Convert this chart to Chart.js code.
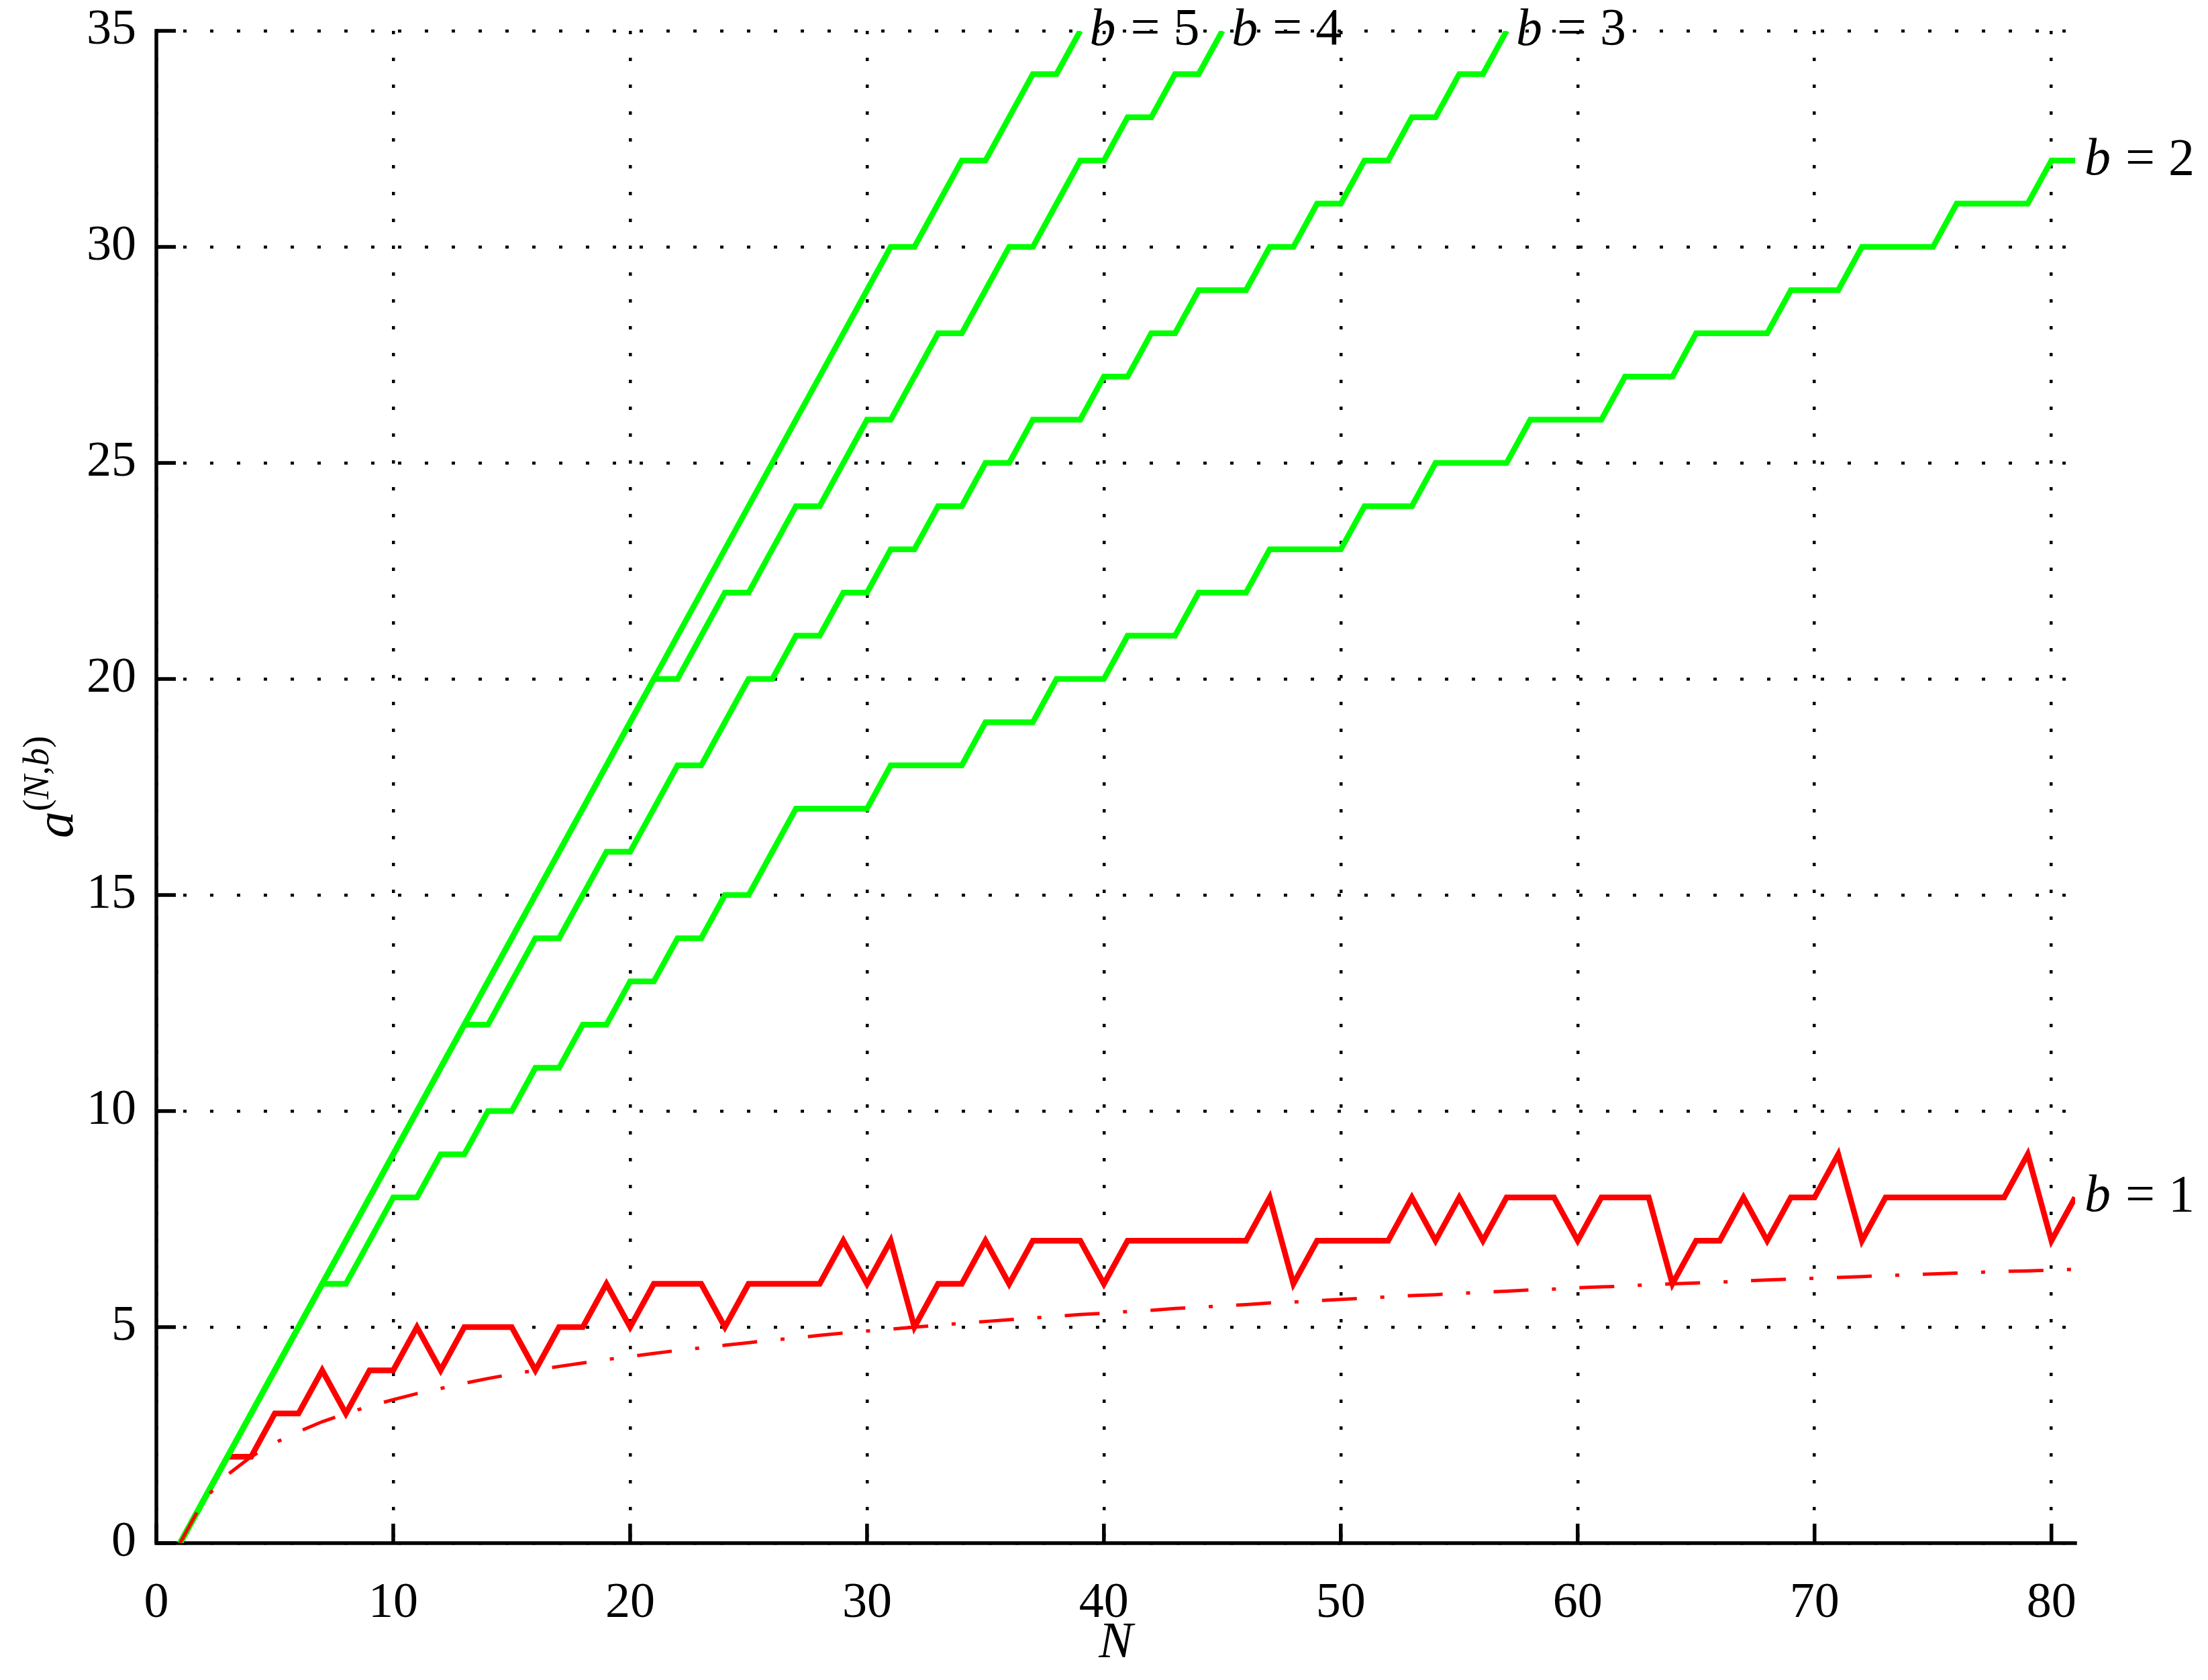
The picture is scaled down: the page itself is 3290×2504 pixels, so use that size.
<!DOCTYPE html>
<html><head><meta charset="utf-8">
<script src="https://cdn.jsdelivr.net/npm/chart.js@4.4.0/dist/chart.umd.min.js"></script>
<style>html,body{margin:0;padding:0;background:#fff;}#c{display:block;}</style>
</head><body>
<canvas id="c" width="3290" height="2504" style="width:3290px;height:2504px"></canvas>
<script>
// ---- data ----
const N = [1,2,3,4,5,6,7,8,9,10,11,12,13,14,15,16,17,18,19,20,21,22,23,24,25,26,27,28,29,30,31,32,33,34,35,36,37,38,39,40,41,42,43,44,45,46,47,48,49,50,51,52,53,54,55,56,57,58,59,60,61,62,63,64,65,66,67,68,69,70,71,72,73,74,75,76,77,78,79,80,81];
const xTicks = [0,10,20,30,40,50,60,70,80];
const yTicks = [0,5,10,15,20,25,30,35];
const b5 = [0,1,2,3,4,5,6,7,8,9, 10,11,12,13,14,15,16,17,18,19, 20,21,22,23,24,25,26,27,28,29, 30,30,31,32,32,33,34,34,35];
const b4 = [0,1,2,3,4,5,6,7,8,9, 10,11,12,13,14,15,16,17,18,19, 20,20,21,22,22,23,24,24,25,26, 26,27,28,28,29,30,30,31,32,32, 33,33,34,34,35];
const b3 = [0,1,2,3,4,5,6,7,8,9, 10,11,12,12,13,14,14,15,16,16, 17,18,18,19,20,20,21,21,22,22, 23,23,24,24,25,25,26,26,26,27, 27,28,28,29,29,29,30,30,31,31, 32,32,33,33,34,34,35];
const b2 = [0,1,2,3,4,5,6,6,7,8, 8,9,9,10,10,11,11,12,12,13, 13,14,14,15,15,16,17,17,17,17, 18,18,18,18,19,19,19,20,20,20, 21,21,21,22,22,22,23,23,23,23, 24,24,24,25,25,25,25,26,26,26, 26,27,27,27,28,28,28,28,29,29, 29,30,30,30,30,31,31,31,31,32,32];
const b1 = [0,1,2,2,3,3,4,3,4,4, 5,4,5,5,5,4,5,5,6,5, 6,6,6,5,6,6,6,6,7,6, 7,5,6,6,7,6,7,7,7,6, 7,7,7,7,7,7,8,6,7,7, 7,7,8,7,8,7,8,8,8,7, 8,8,8,6,7,7,8,7,8,8, 9,7,8,8,8,8,8,8,9,7,8];
const bound = [0,1,1.58,2,2.32,2.58,2.81,3,3.17,3.32, 3.46,3.58,3.70,3.81,3.91,4,4.09,4.17,4.25,4.32, 4.39,4.46,4.52,4.58,4.64,4.70,4.75,4.81,4.86,4.91, 4.95,5,5.04,5.09,5.13,5.17,5.21,5.25,5.29,5.32, 5.36,5.39,5.43,5.46,5.49,5.52,5.56,5.58,5.61,5.64, 5.67,5.70,5.73,5.75,5.78,5.81,5.83,5.86,5.88,5.91, 5.93,5.95,5.98,6,6.02,6.04,6.07,6.09,6.11,6.13, 6.15,6.17,6.19,6.21,6.23,6.25,6.27,6.29,6.30,6.32,6.34];
const seriesNames = ['5','4','3','2','1'];
const xTitle = 'N';

// ---- helpers ----
const SERIF = '"Liberation Serif", "DejaVu Serif", serif';
function pts(vals){ return vals.map((v,i)=>({x:N[i], y:v})); }
const GREEN = '#00ff00', RED = '#ff0000';

const axesPlugin = {
  id:'axesPlugin',
  beforeDatasetsDraw(chart){
    const {ctx, chartArea:a, scales:{x,y}} = chart;
    ctx.save();
    ctx.strokeStyle = '#000'; ctx.lineWidth = 5.5; ctx.lineCap = 'square';
    ctx.beginPath();
    ctx.moveTo(a.left, a.top); ctx.lineTo(a.left, a.bottom); ctx.lineTo(a.right, a.bottom);
    ctx.stroke();
    ctx.lineCap = 'butt';
    ctx.beginPath();
    xTicks.forEach(v=>{ const px = x.getPixelForValue(v); ctx.moveTo(px, a.bottom); ctx.lineTo(px, a.bottom-29); });
    yTicks.forEach(v=>{ const py = y.getPixelForValue(v); ctx.moveTo(a.left, py); ctx.lineTo(a.left+29, py); });
    ctx.stroke();
    ctx.restore();
  },
  afterDraw(chart){
    const {ctx, chartArea:a, scales:{x,y}} = chart;
    ctx.save();
    ctx.fillStyle = '#000';
    // end labels
    ctx.textBaseline = 'middle'; ctx.textAlign = 'left';
    [b5,b4,b3,b2,b1].forEach((vals,k)=>{
      const i = vals.length-1;
      let px = x.getPixelForValue(N[i]) + 14, py = y.getPixelForValue(vals[i]);
      ctx.font = 'italic 78px ' + SERIF; ctx.fillText('b', px, py);
      px += ctx.measureText('b').width + 22;
      ctx.font = '78px ' + SERIF; ctx.fillText('=', px, py);
      px += ctx.measureText('=').width + 20;
      ctx.fillText(seriesNames[k], px, py);
    });
    // x title
    ctx.textAlign = 'center';
    ctx.font = 'italic 76px ' + SERIF;
    ctx.fillText(xTitle, (a.left+a.right)/2, 2450);
    // y title a^(N,b), rotated
    ctx.translate(108, (a.top+a.bottom)/2);
    ctx.rotate(-Math.PI/2);
    ctx.textBaseline = 'alphabetic'; ctx.textAlign = 'left';
    const parts = [
      {t:'a', f:'italic 80px ', dy:0},
      {t:'(', f:'54px ', dy:-36},
      {t:'N', f:'italic 54px ', dy:-36},
      {t:',', f:'54px ', dy:-36},
      {t:'b', f:'italic 54px ', dy:-36},
      {t:')', f:'54px ', dy:-36}
    ];
    let total = 0;
    parts.forEach(p=>{ ctx.font = p.f + SERIF; p.w = ctx.measureText(p.t).width; total += p.w; });
    let cx = -total/2;
    parts.forEach(p=>{ ctx.font = p.f + SERIF; ctx.fillText(p.t, cx, p.dy); cx += p.w; });
    ctx.restore();
  }
};

const ds = (vals, color, width, dash) => ({
  data: pts(vals), borderColor: color, backgroundColor: color, borderWidth: width,
  borderDash: dash || [], pointRadius: 0, fill: false, tension: 0,
  borderJoinStyle: 'miter', borderCapStyle: 'butt'
});

new Chart(document.getElementById('c').getContext('2d'), {
  type: 'line',
  data: { datasets: [
    ds(bound, RED, 5, [52,35,6,35]),
    ds(b5, GREEN, 8.5), ds(b4, GREEN, 8.5), ds(b3, GREEN, 8.5), ds(b2, GREEN, 8.5),
    ds(b1, RED, 8.5)
  ]},
  options: {
    responsive: false, devicePixelRatio: 1, animation: false,
    layout: { padding: { left: 0, right: 198, top: 46, bottom: 0 } },
    plugins: { legend: { display: false }, tooltip: { enabled: false } },
    scales: {
      x: {
        type: 'linear', min: 0, max: 81,
        afterBuildTicks: s => { s.ticks = xTicks.map(v=>({value:v})); },
        afterFit: s => { s.height = 204; },
        grid: { color: '#000', lineWidth: 4.5, drawTicks: false },
        border: { display: false, dash: [5,35] },
        ticks: { padding: 46, color: '#000', maxRotation: 0, autoSkip: false, font: { family: SERIF, size: 74 } }
      },
      y: {
        type: 'linear', min: 0, max: 35,
        afterBuildTicks: s => { s.ticks = yTicks.map(v=>({value:v})); },
        afterFit: s => { s.width = 233; },
        grid: { color: '#000', lineWidth: 4.5, drawTicks: false },
        border: { display: false, dash: [5,35] },
        ticks: { padding: 30, color: '#000', autoSkip: false, font: { family: SERIF, size: 74, lineHeight: 0.2 } }
      }
    }
  },
  plugins: [axesPlugin]
});
</script>
</body></html>
